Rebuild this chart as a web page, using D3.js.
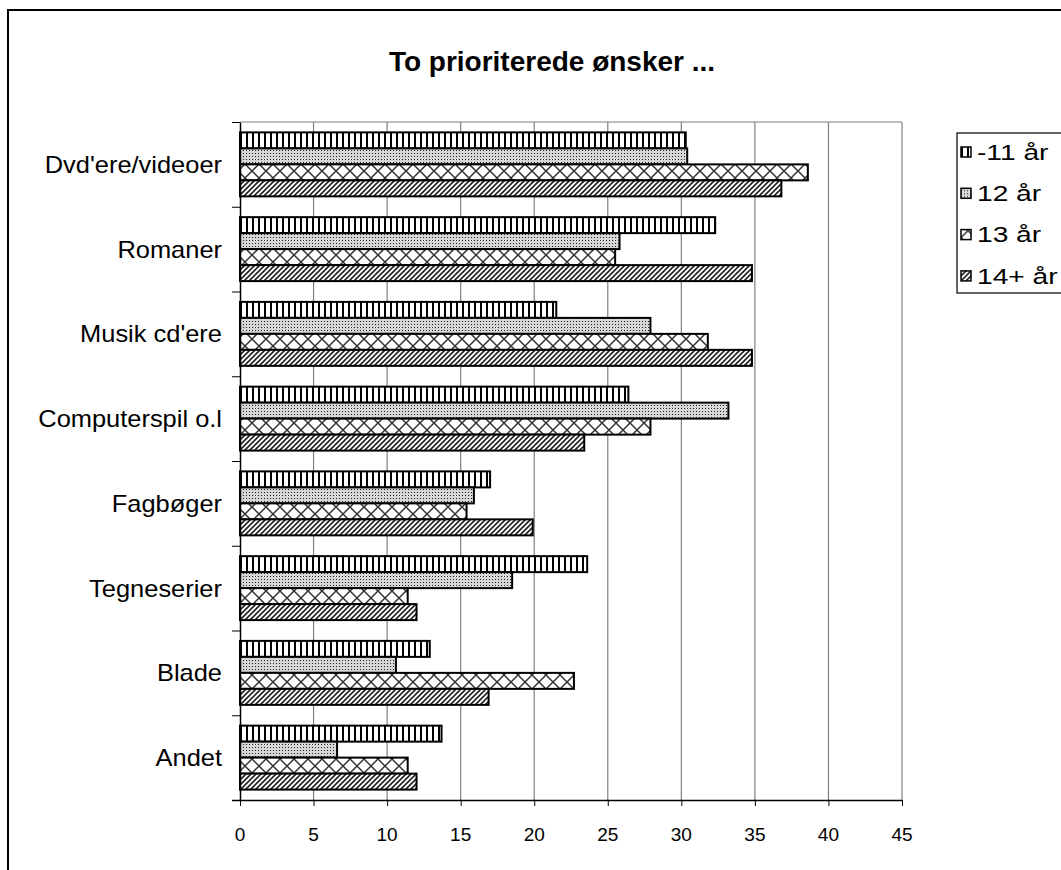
<!DOCTYPE html>
<html lang="da">
<head>
<meta charset="UTF-8">
<title>To prioriterede ønsker ...</title>
<script src="https://d3js.org/d3.v7.min.js"></script>
<style>
  body { margin: 0; background: #fff; font-family: "Liberation Sans", Arial, sans-serif; }
  .title { font-size: 28px; font-weight: bold; text-anchor: middle; }
  .cat { font-size: 24px; text-anchor: end; }
  .leg text { font-size: 22px; }
</style>
</head>
<body>
<svg width="1061" height="870"></svg>
<script>
// categories, top to bottom
const categories = ["Dvd'ere/videoer", "Romaner", "Musik cd'ere", "Computerspil o.l",
                    "Fagbøger", "Tegneserier", "Blade", "Andet"];
const seriesNames = ["-11 år", "12 år", "13 år", "14+ år"];

// values (%) per age group, same order as categories
const under11 = [30.3, 32.3, 21.5, 26.4, 17.0, 23.6, 12.9, 13.7];
const age12   = [30.4, 25.8, 27.9, 33.2, 15.9, 18.5, 10.6, 6.6];
const age13   = [38.6, 25.5, 31.8, 27.9, 15.4, 11.4, 22.7, 11.4];
const age14   = [36.8, 34.8, 34.8, 23.4, 19.9, 12.0, 16.9, 12.0];
const xTicks  = [0, 5, 10, 15, 20, 25, 30, 35, 40, 45];

const seriesValues = [under11, age12, age13, age14];
const patternIds = ["pVert", "pDots", "pLattice", "pDiag"];

const svg = d3.select("svg");

// hatch patterns
const defs = svg.append("defs");
const pv = defs.append("pattern").attr("id", "pVert").attr("patternUnits", "userSpaceOnUse")
  .attr("width", 6).attr("height", 6);
pv.append("rect").attr("width", 6).attr("height", 6).attr("fill", "#fff");
pv.append("rect").attr("width", 2).attr("height", 6).attr("fill", "#000");

const pd = defs.append("pattern").attr("id", "pDots").attr("patternUnits", "userSpaceOnUse")
  .attr("width", 3).attr("height", 3);
pd.append("rect").attr("width", 3).attr("height", 3).attr("fill", "#d6d6d6");
pd.append("rect").attr("width", 1).attr("height", 1).attr("fill", "#222");

const pl = defs.append("pattern").attr("id", "pLattice").attr("patternUnits", "userSpaceOnUse")
  .attr("width", 14).attr("height", 14).attr("y", 3);
pl.append("rect").attr("width", 14).attr("height", 14).attr("fill", "#fff");
pl.append("path").attr("d", "M0,0L14,14M14,0L0,14").attr("stroke", "#333").attr("stroke-width", 1.5);

const pg = defs.append("pattern").attr("id", "pDiag").attr("patternUnits", "userSpaceOnUse")
  .attr("width", 5).attr("height", 5);
pg.append("rect").attr("width", 5).attr("height", 5).attr("fill", "#fff");
pg.append("path").attr("d", "M-1,6L6,-1M-1,1L1,-1M4,6L6,4").attr("stroke", "#222").attr("stroke-width", 1.6);

// outer chart frame (runs past the window on right and bottom)
svg.append("rect").attr("x", 8).attr("y", 10).attr("width", 1200).attr("height", 1000)
  .attr("fill", "none").attr("stroke", "#000").attr("stroke-width", 2);

svg.append("text").attr("class", "title").attr("x", 552).attr("y", 71)
  .text("To prioriterede ønsker ...");

const plot = {left: 240, right: 902, top: 122, bottom: 800};

const x = d3.scaleLinear().domain([0, 45]).range([plot.left, plot.right]);
const y = d3.scaleBand().domain(categories).range([plot.top, plot.bottom]);
const ySub = d3.scaleBand().domain(seriesNames).range([0, y.bandwidth()])
  .paddingInner(0).paddingOuter(0.65);
const yEdge = d3.scaleLinear().domain([0, categories.length]).range([plot.top, plot.bottom]);

// gridlines
svg.append("g").selectAll("line").data(xTicks.slice(1)).join("line")
  .attr("x1", d => x(d)).attr("x2", d => x(d))
  .attr("y1", plot.top).attr("y2", plot.bottom)
  .attr("stroke", "#808080").attr("stroke-width", 1.2);
svg.append("line").attr("x1", plot.left).attr("x2", plot.right)
  .attr("y1", plot.top).attr("y2", plot.top)
  .attr("stroke", "#808080").attr("stroke-width", 1.2);

// bars
const rows = [];
seriesValues.forEach((vals, si) => {
  vals.forEach((v, ci) => rows.push({cat: categories[ci], s: seriesNames[si], si: si, v: v}));
});
svg.append("g").selectAll("rect").data(rows).join("rect")
  .attr("x", x(0))
  .attr("y", d => y(d.cat) + ySub(d.s))
  .attr("width", d => x(d.v) - x(0))
  .attr("height", ySub.bandwidth())
  .attr("fill", d => `url(#${patternIds[d.si]})`)
  .attr("stroke", "#000").attr("stroke-width", 2);

// x axis (ticks from d3, labels drawn below with a larger font)
const xAxis = svg.append("g")
  .attr("transform", `translate(0,${plot.bottom})`)
  .call(d3.axisBottom(x).tickValues(xTicks).tickSize(6).tickFormat("").tickSizeOuter(0));
xAxis.select(".domain").attr("stroke", "#000").attr("stroke-width", 1.5)
  .attr("d", `M${plot.left - 8},0.5H${plot.right}`);
xAxis.selectAll(".tick line").attr("stroke", "#000");

svg.append("g").selectAll("text").data(xTicks).join("text")
  .attr("x", d => x(d))
  .attr("y", plot.bottom + 41)
  .attr("text-anchor", "middle")
  .attr("font-size", 19)
  .attr("font-family", "'Liberation Sans', Arial, sans-serif")
  .attr("fill", "#000")
  .text(d => d);

// y axis: ticks at category boundaries
const yAxis = svg.append("g").attr("transform", `translate(${plot.left},0)`)
  .call(d3.axisLeft(yEdge).tickValues(d3.range(0, categories.length + 1))
    .tickSize(8).tickFormat("").tickSizeOuter(0));
yAxis.select(".domain").attr("stroke", "#000").attr("stroke-width", 1.5);
yAxis.selectAll(".tick line").attr("stroke", "#000");

// category labels (the source text is slightly stretched horizontally)
svg.append("g").selectAll("text").data(categories).join("text")
  .attr("class", "cat")
  .attr("transform", d => `translate(${plot.left - 18},${y(d) + y.bandwidth() / 2}) scale(1.06,1)`)
  .attr("dy", "0.35em")
  .text(d => d);

// legend
const leg = svg.append("g").attr("class", "leg");
leg.append("rect").attr("x", 957).attr("y", 133).attr("width", 200).attr("height", 160)
  .attr("fill", "#fff").attr("stroke", "#000").attr("stroke-width", 1.2);
const items = leg.selectAll("g.item").data(seriesNames).join("g").attr("class", "item")
  .attr("transform", (d, i) => `translate(961,${152 + i * 41.3})`);
items.append("rect").attr("x", 0).attr("y", -5).attr("width", 10).attr("height", 10)
  .attr("fill", (d, i) => `url(#${patternIds[i]})`).attr("stroke", "#000").attr("stroke-width", 1.5);
items.append("text").attr("transform", "translate(16,0) scale(1.28,1)")
  .attr("dy", "0.35em").text(d => d);
</script>
</body>
</html>
